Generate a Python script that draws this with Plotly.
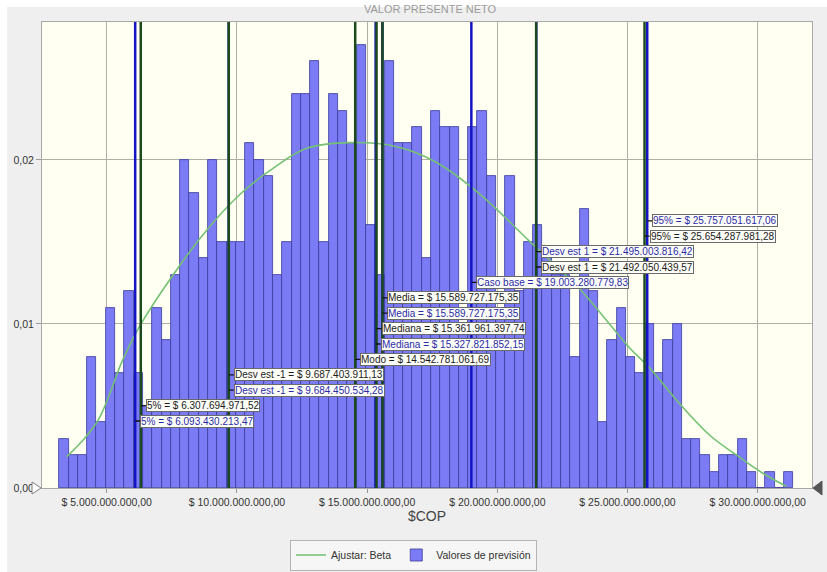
import plotly.graph_objects as go

# ---------------- data ----------------
bin_start = 3.18e9          # left edge of first histogram bin ($COP)
bin_width = 0.3568e9        # histogram bin width ($COP)
trials = 1000
frequencies = [3, 2, 2, 8, 4, 11, 7, 12, 7, 5,
               11, 9, 13, 20, 18, 14, 20, 15, 15, 15,
               21, 20, 19, 13, 15, 24, 24, 26, 15, 24,
               23, 21, 27, 16, 13, 26, 21, 21, 22, 14,
               23, 22, 22, 10, 22, 23, 19, 11, 19, 12,
               15, 16, 14, 13, 13, 8, 17, 12, 4, 9,
               11, 8, 7, 10, 7, 9, 10, 3, 3, 2,
               1, 2, 2, 3, 1, 0, 1, 0, 1]

beta_x = [3.46e9, 4.62e9, 5.64e9, 6.39e9, 8.58e9, 10.12e9, 11.4e9, 12.68e9, 14.34e9,
          16.14e9, 17.6e9, 19.34e9, 21.26e9, 23.18e9, 25.1e9, 25.8e9, 27.08e9,
          28.17e9, 29.19e9, 30.2e9, 31.1e9]
beta_y = [0.0019, 0.0040, 0.0079, 0.0102, 0.0152, 0.0179, 0.0195, 0.0207, 0.02105,
          0.0208, 0.0199, 0.0179, 0.0150, 0.0121, 0.0085, 0.0074, 0.0050,
          0.0032, 0.0020, 0.0009, 0.0001]

stat_names = ["95%", "95%", "Desv est 1", "Desv est 1", "Caso base", "Media", "Media",
              "Mediana", "Mediana", "Modo", "Desv est -1", "Desv est -1", "5%", "5%"]
stat_values = [25757051617.06, 25654287981.28, 21495003816.42, 21492050439.57,
               19003280779.83, 15589727175.35, 15589727175.35, 15361961397.74,
               15327821852.15, 14542781061.69, 9687403911.13, 9684450534.28,
               6307694971.52, 6093430213.47]
stat_source = ["prev", "ajuste", "prev", "ajuste", "prev", "ajuste", "prev",
               "ajuste", "prev", "ajuste", "ajuste", "prev", "ajuste", "prev"]

x_tick_values = [5e9, 10e9, 15e9, 20e9, 25e9, 30e9]
x_tick_text = ["$ 5.000.000.000,00", "$ 10.000.000.000,00", "$ 15.000.000.000,00",
               "$ 20.000.000.000,00", "$ 25.000.000.000,00", "$ 30.000.000.000,00"]
y_tick_values = [0.0, 0.01, 0.02]
y_tick_text = ["0,00", "0,01", "0,02"]

# ---------------- figure ----------------
FONT = "Liberation Sans, Arial, sans-serif"
W, H = 827, 572
ML, MR, MT, MB = 42, 15, 22, 84
PW, PH = W - ML - MR, H - MT - MB

def fmt_money(v):
    s = f"{v:,.2f}"
    return "$ " + s.replace(",", "X").replace(".", ",").replace("X", ".")

centers = [bin_start + bin_width * (i + 0.5) for i in range(len(frequencies))]
probs = [f / trials for f in frequencies]

fig = go.Figure()
fig.add_trace(go.Bar(
    x=centers, y=probs, width=bin_width, name="Valores de previsión",
    marker=dict(color="#7b7bf5", line=dict(color="#3b3b9a", width=0.8)),
    legendrank=2, hoverinfo="skip"))
fig.add_trace(go.Scatter(
    x=beta_x, y=beta_y, mode="lines", name="Ajustar: Beta",
    line=dict(color="#74c174", width=1.6, shape="spline", smoothing=1.0),
    legendrank=1, hoverinfo="skip"))

shapes = []
# white strips on left and top edges of the image
shapes.append(dict(type="rect", xref="paper", yref="paper",
                   x0=-ML / PW, x1=-(ML - 7) / PW, y0=-MB / PH, y1=1 + MT / PH,
                   fillcolor="white", line=dict(width=0), layer="below"))
shapes.append(dict(type="rect", xref="paper", yref="paper",
                   x0=-ML / PW, x1=1 + MR / PW, y0=1 + (MT - 7) / PH, y1=1 + MT / PH,
                   fillcolor="white", line=dict(width=0), layer="below"))

# statistic lines: forecast (blue) first, fit (dark green) on top
for src_kind, col in (("prev", "#1414c4"), ("ajuste", "#1c4a1c")):
    for v, s in zip(stat_values, stat_source):
        if s == src_kind:
            shapes.append(dict(type="line", xref="x", yref="paper", x0=v, x1=v,
                               y0=0, y1=1, line=dict(color=col, width=2.5)))

# certainty grabbers (triangles)
def px2paper(px, py):
    return (px - ML) / PW, (H - MB - py) / PH

def tri(points):
    pts = [px2paper(*p) for p in points]
    return "M " + " L ".join(f"{x},{y}" for x, y in pts) + " Z"

shapes.append(dict(type="path", xref="paper", yref="paper",
                   path=tri([(32, 482), (41, 488), (32, 494)]),
                   fillcolor="white", line=dict(color="#808080", width=1)))
shapes.append(dict(type="path", xref="paper", yref="paper",
                   path=tri([(822, 481), (813, 488), (822, 495)]),
                   fillcolor="#555555", line=dict(color="#555555", width=1)))

annotations = []
for i, (n, v, s) in enumerate(zip(stat_names, stat_values, stat_source)):
    y_px = 220.8 + i * 15.4
    annotations.append(dict(
        x=v, xref="x", y=(H - MB - y_px) / PH, yref="paper",
        text=f"{n} = {fmt_money(v)}", showarrow=True, arrowhead=0, arrowwidth=1.3,
        arrowcolor="#111111", ax=5, ay=0, xanchor="left", yanchor="middle",
        font=dict(family=FONT, size=10, color="#2a2aa8" if s == "prev" else "#1a1a1a"),
        bgcolor="#fefef8", bordercolor="#6a6a6a", borderwidth=1, borderpad=0))

fig.update_layout(
    width=W, height=H, autosize=False,
    margin=dict(l=ML, r=MR, t=MT, b=MB, autoexpand=False),
    paper_bgcolor="#efefef", plot_bgcolor="#fffff2",
    font=dict(family=FONT, size=10.5, color="#333333"),
    bargap=0,
    title=dict(text="VALOR PRESENTE NETO", x=0.52, xanchor="center",
               y=(H - 9) / H, yref="container",
               yanchor="middle", font=dict(family=FONT, size=11, color="#9a9a9a")),
    xaxis=dict(range=[2.515e9, 32.085e9], tickvals=x_tick_values, ticktext=x_tick_text,
               showgrid=True, gridcolor="#b0b0a8", gridwidth=1, zeroline=False,
               ticks="outside", ticklen=4, tickcolor="#999999", automargin=False,
               showline=True, linecolor="#a8a8a8", mirror=True,
               tickfont=dict(family=FONT, size=10.5, color="#333333"),
               title=dict(text="$COP", standoff=4,
                          font=dict(family=FONT, size=14, color="#444444"))),
    yaxis=dict(range=[0, 0.0284], tickvals=y_tick_values, ticktext=y_tick_text,
               showgrid=True, gridcolor="#b0b0a8", gridwidth=1, zeroline=False,
               ticks="outside", ticklen=5, tickcolor="#999999", automargin=False,
               showline=True, linecolor="#a8a8a8", mirror=True,
               tickfont=dict(family=FONT, size=10.5, color="#333333")),
    legend=dict(orientation="h", x=0.5, xanchor="center", xref="container",
                y=(H - 555) / H, yref="container",
                yanchor="middle", bgcolor="#f6f6f6", bordercolor="#b4b4b4",
                borderwidth=1, font=dict(family=FONT, size=10.5, color="#333333")),
    shapes=shapes, annotations=annotations,
)

fig.write_html("out.html", config={"displayModeBar": False},
               post_script="document.body.style.margin='0';document.body.style.overflow='hidden';")
